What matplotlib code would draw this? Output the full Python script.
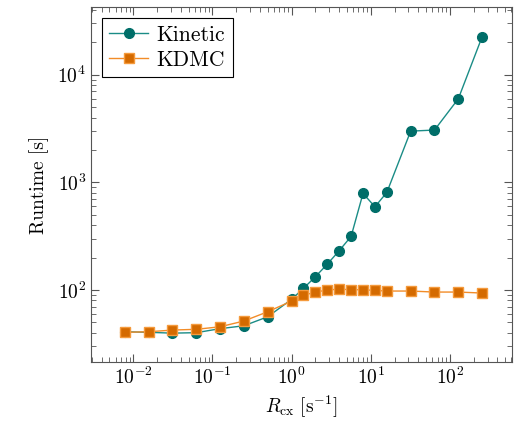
import numpy as np
import matplotlib
matplotlib.use("Agg")
import matplotlib.pyplot as plt
from matplotlib.ticker import LogLocator, NullFormatter

plt.rcParams['font.family'] = 'serif'
plt.rcParams['font.serif'] = ['cmr10', 'DejaVu Serif']
plt.rcParams['mathtext.fontset'] = 'cm'
plt.rcParams['axes.formatter.use_mathtext'] = True
plt.rcParams['axes.unicode_minus'] = False

# rates R_cx [1/s]
r_cx = [2**-7, 2**-6, 2**-5, 2**-4, 2**-3, 2**-2, 2**-1, 1.0,
        2**0.5, 2.0, 2**1.5, 4.0, 2**2.5, 8.0, 2**3.5, 16.0,
        32.0, 64.0, 128.0, 256.0]

# runtimes [s]
kinetic = [41.0, 40.5, 39.8, 40.2, 43.8, 46.6, 56.5, 82.0,
           103.7, 133.0, 174.0, 232.0, 315.0, 790.0, 593.0, 807.0,
           2990.0, 3060.0, 5970.0, 22500.0]
kdmc = [40.5, 41.0, 42.5, 43.2, 45.6, 51.6, 62.9, 79.0,
        89.3, 95.8, 100.0, 102.0, 100.7, 100.7, 99.2, 97.9,
        97.9, 95.8, 95.8, 93.8]

fig = plt.figure(figsize=(5.14, 4.33), dpi=100)
ax = fig.add_axes([0.177, 0.164, 0.819, 0.820])

ax.plot(r_cx, kinetic, '-o', color='#1A8C86', lw=1.0, ms=7,
        mfc='#006E69', mec='#006E69', label='Kinetic', zorder=3)
ax.plot(r_cx, kdmc, '-s', color='#F28C28', lw=1.0, ms=7,
        mfc='#D46A00', mec='#F59A3C', mew=1.0, label='KDMC', zorder=4)

ax.set_xscale('log')
ax.set_yscale('log')
ax.set_xlim(10**-2.535, 10**2.785)
ax.set_ylim(10**1.332, 10**4.629)

ax.xaxis.set_minor_locator(LogLocator(base=10, subs=np.arange(2, 10), numticks=20))
ax.yaxis.set_minor_locator(LogLocator(base=10, subs=np.arange(2, 10), numticks=20))
ax.xaxis.set_minor_formatter(NullFormatter())
ax.yaxis.set_minor_formatter(NullFormatter())

ax.tick_params(which='both', direction='in', top=True, right=True, color='#555555')
ax.tick_params(which='major', length=6, width=0.8, labelsize=14)
ax.tick_params(which='minor', length=3.5, width=0.6)
for s in ax.spines.values():
    s.set_color('#555555')
    s.set_linewidth(0.8)

ax.set_xlabel(r'$R_{\mathrm{cx}}\ [\mathrm{s}^{-1}]$', fontsize=14, labelpad=4)
ax.set_ylabel('Runtime [s]', fontsize=14, labelpad=6)

leg = ax.legend(loc='upper left', fontsize=15.5, fancybox=False, framealpha=1,
                edgecolor='black', handlelength=1.8, borderpad=0.35,
                labelspacing=0.25, handletextpad=0.4, borderaxespad=0.5)
leg.get_frame().set_linewidth(0.8)

fig.savefig('out.png', dpi=100)
